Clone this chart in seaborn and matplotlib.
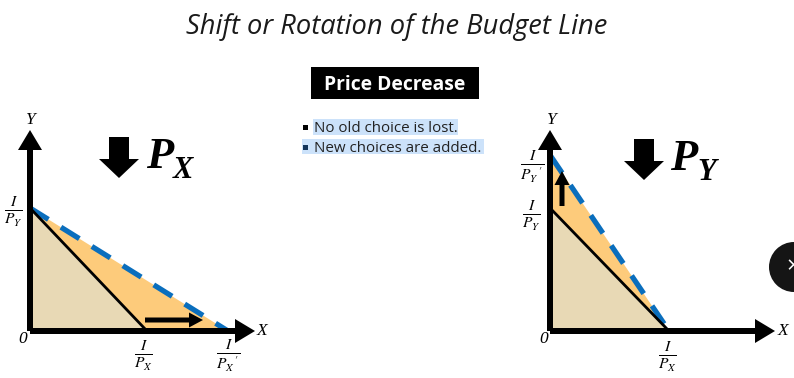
import matplotlib
matplotlib.use("Agg")
import matplotlib.pyplot as plt
from matplotlib.patches import Rectangle, Circle
import seaborn as sns
import pandas as pd

sns.set_theme(style="white")
plt.rcParams['font.family'] = ['Open Sans', 'DejaVu Sans']
plt.rcParams['mathtext.fontset'] = 'stix'

W, H = 794, 378
# Budget line intercepts (panel units)
left_x_old, left_x_new, left_y_old, left_y_new = 117, 198, 123, 123
right_x_old, right_x_new, right_y_old, right_y_new = 119, 119, 123, 176
left_arrow = (115, 11, 58, 0)
right_arrow = (12, 125, 0, 35)

title = "Shift or Rotation of the Budget Line"
badge = "Price Decrease"
bullets = ["No old choice is lost.", "New choices are added."]

BLUE, ORANGE, BEIGE = "#0A6EBD", "#FDCB7B", "#E8D9B5"

fig = plt.figure(figsize=(W / 100, H / 100), dpi=100)
bg = fig.add_axes([0, 0, 1, 1])
bg.set_xlim(0, W); bg.set_ylim(H, 0); bg.axis("off")


def panel(x0, x_old, x_new, y_old, y_new, arrow):
    ax = fig.add_axes([x0 / W, (H - 331) / H, 225 / W, 201 / H])
    ax.set_xlim(0, 225); ax.set_ylim(0, 201); ax.axis("off")
    ax.patch.set_alpha(0)
    ax.fill([0, x_new, 0], [0, 0, y_new], color=ORANGE, lw=0, zorder=1)
    ax.fill([0, x_old, 0], [0, 0, y_old], color=BEIGE, lw=0, zorder=2)
    new = pd.DataFrame({"x": [0, x_new], "y": [y_new, 0]})
    old = pd.DataFrame({"x": [0, x_old], "y": [y_old, 0]})
    sns.lineplot(data=new, x="x", y="y", ax=ax, color=BLUE, lw=3.8, zorder=3,
                 dashes=(4.1, 2.8), estimator=None, sort=False)
    sns.lineplot(data=old, x="x", y="y", ax=ax, color="black", lw=2.0, zorder=4,
                 estimator=None, sort=False)
    for dx, dy in [(225, 0), (0, 201)]:
        ax.arrow(0, 0, dx, dy, width=6, head_width=24, head_length=20, clip_on=False,
                 length_includes_head=True, color="black", lw=0, zorder=6)
    ax.arrow(*arrow, width=5, head_width=15, head_length=14, clip_on=False,
             length_includes_head=True, color="black", lw=0, zorder=7)
    ax.set_xlabel(""); ax.set_ylabel("")
    return ax


panel(30, left_x_old, left_x_new, left_y_old, left_y_new, left_arrow)
panel(550, right_x_old, right_x_new, right_y_old, right_y_new, right_arrow)

serif = dict(family="Liberation Serif", style="italic", color="black")


def axlabels(ox, xpos, ypos):
    bg.text(ox + 227, 331, "X", ha="left", va="center", fontsize=12.5, **serif)
    bg.text(ox - 4, 120, "Y", ha="left", va="center", fontsize=12.5, **serif)
    bg.text(ox - 7, 339, "0", ha="center", va="center", fontsize=12.5, **serif)
    for x, y, s in xpos + ypos:
        bg.text(x, y, s, ha="center", va="center", fontsize=16, color="black", math_fontfamily="stix")


axlabels(30,
         [(143, 356, r"$\frac{I}{P_X}$"), (228, 356, r"$\frac{I}{P_X\,'}$")],
         [(13, 212, r"$\frac{I}{P_Y}$")])
axlabels(551,
         [(667, 357, r"$\frac{I}{P_X}$")],
         [(532, 167, r"$\frac{I}{P_Y\,'}$"), (531, 216, r"$\frac{I}{P_Y}$")])


def big_symbol(xa, ya, xp, sub):
    bg.fill([xa - 10, xa + 10, xa + 10, xa + 20, xa, xa - 20, xa - 10],
            [ya, ya, ya + 22, ya + 22, ya + 41, ya + 22, ya + 22], color="black", lw=0)
    bg.text(xp, ya + 20, "P", ha="left", va="center", fontsize=32, family="Liberation Serif",
            style="italic", weight="bold", color="black")
    bg.text(xp + 27, ya + 33, sub, ha="left", va="center", fontsize=22, family="Liberation Serif",
            style="italic", weight="bold", color="black")


big_symbol(119, 137, 146, "X")
big_symbol(644, 139, 670, "Y")

bg.text(397, 27, title, ha="center", va="center", fontsize=19.6, style="italic", color="#1a1a1a")

bg.add_patch(Rectangle((311, 67), 168, 32, color="black", lw=0))
bg.text(395, 85, badge, ha="center", va="center", fontsize=13.9, weight="bold", color="white")

bg.add_patch(Rectangle((313, 119), 145, 16, color="#CCE2FA", lw=0))
bg.add_patch(Rectangle((302, 139), 182, 15, color="#CCE2FA", lw=0))
bg.add_patch(Rectangle((303, 125), 5, 5, color="black", lw=0))
bg.add_patch(Rectangle((303, 145), 5, 5, color="#12345a", lw=0))
bg.text(314, 128.5, bullets[0], ha="left", va="center", fontsize=10.9, color="#222222")
bg.text(314, 148, bullets[1], ha="left", va="center", fontsize=10.9, color="#222222")

bg.add_patch(Circle((794, 267), 25, color="#151515", lw=0, clip_on=True))
bg.text(793, 267, "×", ha="center", va="center", fontsize=17, color="white", clip_on=True)

fig.savefig("out.png", dpi=100)
